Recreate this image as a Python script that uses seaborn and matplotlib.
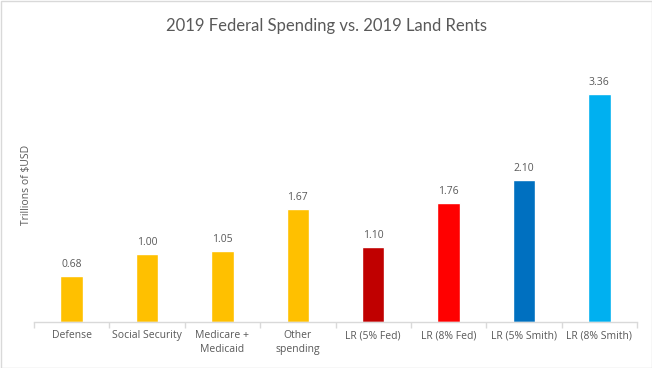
import numpy as np
import pandas as pd
import seaborn as sns
import matplotlib.pyplot as plt
from matplotlib.patches import Rectangle

# dados
categorias = ['Defense', 'Social Security', 'Medicare +\nMedicaid', 'Other\nspending',
              'LR (5% Fed)', 'LR (8% Fed)', 'LR (5% Smith)', 'LR (8% Smith)']
valores = [0.68, 1.00, 1.05, 1.67, 1.10, 1.76, 2.10, 3.36]
cores = ['#FFC000', '#FFC000', '#FFC000', '#FFC000', '#C00000', '#FF0000', '#0070C0', '#00B0F0']

df = pd.DataFrame({'categoria': categorias, 'valor': valores})

sns.set_style('white')
plt.rcParams['font.family'] = ['Open Sans', 'DejaVu Sans']
texto = '#595959'

fig = plt.figure(figsize=(6.52, 3.68), dpi=100)
ax = fig.add_axes([34 / 652, 46 / 368, 603 / 652, 271 / 368])

sns.barplot(data=df, x='categoria', y='valor', hue='categoria', palette=cores,
            width=0.3, legend=False, ax=ax, saturation=1)

for i, v in enumerate(valores):
    ax.text(i, v + 0.09, f'{v:.2f}', ha='center', va='bottom', fontsize=7.5, color=texto)

ax.set_xlim(-0.5, len(categorias) - 0.5)
ax.set_ylim(0, 4)
ax.set_yticks([])
ax.set_xlabel('')
ax.set_ylabel('Trillions of $USD', fontsize=7.5, color=texto)
ax.yaxis.set_label_coords(-0.003, 0.505)

for s in ['top', 'right', 'left']:
    ax.spines[s].set_visible(False)
ax.spines['bottom'].set_color('#D9D9D9')
ax.spines['bottom'].set_linewidth(1)

ax.set_xticks(range(len(categorias)))
ax.set_xticklabels(categorias, fontsize=7.5, color=texto, linespacing=1.3)
ax.tick_params(axis='x', which='major', length=0, pad=6)
ax.set_xticks(np.arange(-0.5, len(categorias)), minor=True)
ax.tick_params(axis='x', which='minor', length=4, color='#D9D9D9', width=1, bottom=True)

fig.text(0.5, 1 - 26 / 368, '2019 Federal Spending vs. 2019 Land Rents',
         ha='center', va='center', fontsize=12, color=texto, family=['Lato', 'DejaVu Sans'])

# moldura do gráfico
fig.patches.append(Rectangle((0.5 / 652, 0.5 / 368), 651 / 652, 367 / 368, transform=fig.transFigure,
                             fill=False, edgecolor='#D9D9D9', linewidth=1))

fig.savefig('out.png', dpi=100)
